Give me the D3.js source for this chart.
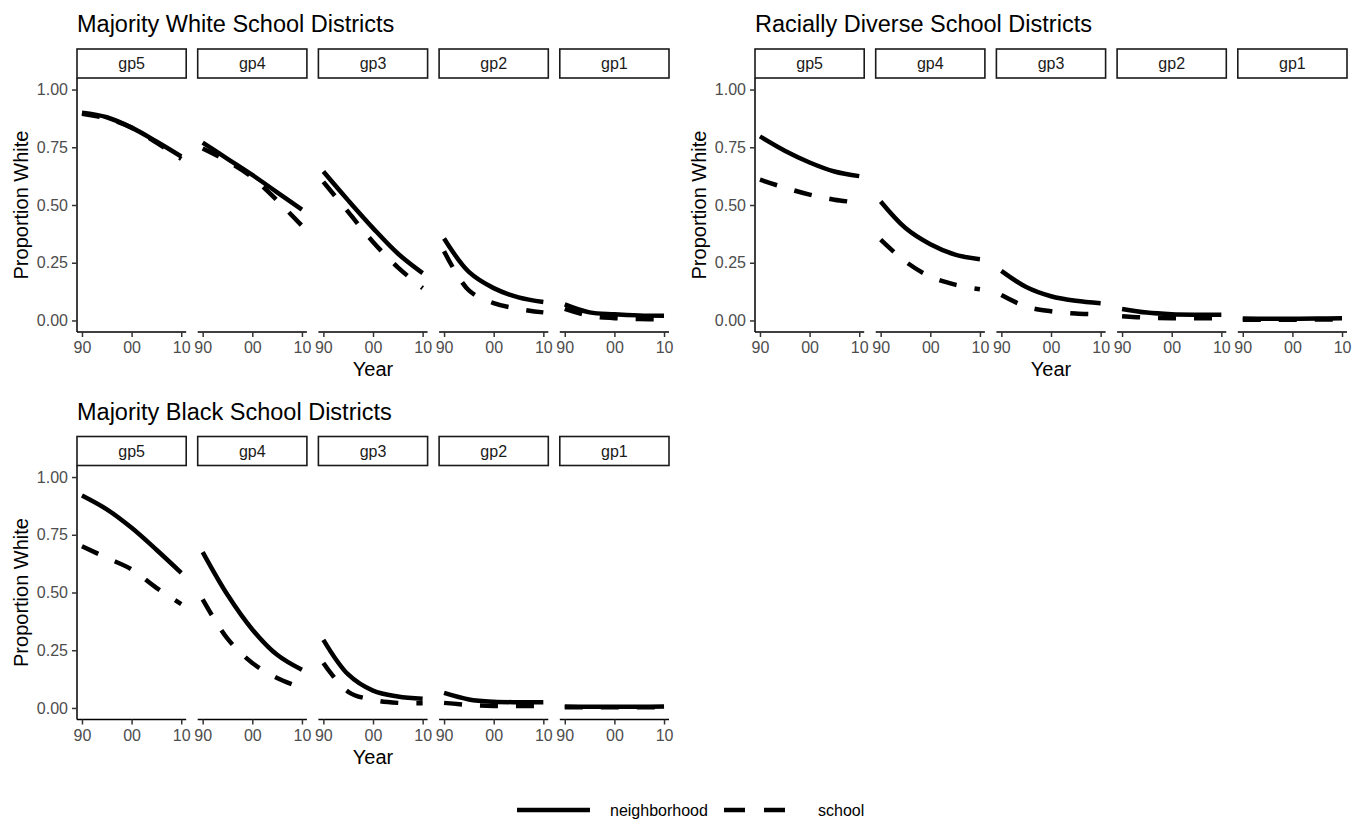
<!DOCTYPE html>
<html>
<head>
<meta charset="utf-8">
<script src="https://cdn.jsdelivr.net/npm/d3@7"></script>
<style>
  html, body { margin: 0; padding: 0; background: #fff; }
  svg { display: block; font-family: "Liberation Sans", Arial, sans-serif; }
</style>
</head>
<body>
<svg id="chart" width="1365" height="821"></svg>
<script>
// ---------------- DATA ----------------
const years = [1990, 1995, 2000, 2005, 2010];
const groups = ["gp5", "gp4", "gp3", "gp2", "gp1"];
const xTickValues = [1990, 2000, 2010];
const xTickLabels = ["90", "00", "10"];
const yTickValues = [0, 0.25, 0.5, 0.75, 1];
const yTickLabels = ["0.00", "0.25", "0.50", "0.75", "1.00"];
const seriesNames = ["neighborhood", "school"];
const chartTitles = ["Majority White School Districts", "Racially Diverse School Districts", "Majority Black School Districts"];

// rows follow groups order (gp5..gp1), columns follow years
const whiteNeighborhood = [
  [0.90, 0.88, 0.835, 0.775, 0.71],
  [0.77, 0.70, 0.63, 0.555, 0.48],
  [0.645, 0.52, 0.40, 0.29, 0.205],
  [0.355, 0.21, 0.14, 0.10, 0.08],
  [0.07, 0.035, 0.027, 0.022, 0.02]
];
const whiteSchool = [
  [0.895, 0.875, 0.835, 0.77, 0.70],
  [0.745, 0.69, 0.62, 0.52, 0.41],
  [0.60, 0.47, 0.34, 0.23, 0.14],
  [0.30, 0.13, 0.075, 0.05, 0.035],
  [0.05, 0.02, 0.01, 0.006, 0.005]
];
const diverseNeighborhood = [
  [0.797, 0.735, 0.684, 0.645, 0.625],
  [0.515, 0.40, 0.33, 0.285, 0.265],
  [0.215, 0.145, 0.105, 0.085, 0.075],
  [0.05, 0.034, 0.027, 0.025, 0.025],
  [0.008, 0.007, 0.007, 0.008, 0.01]
];
const diverseSchool = [
  [0.61, 0.575, 0.545, 0.523, 0.51],
  [0.35, 0.255, 0.19, 0.155, 0.135],
  [0.11, 0.06, 0.04, 0.03, 0.026],
  [0.018, 0.012, 0.01, 0.01, 0.01],
  [0.003, 0.003, 0.003, 0.004, 0.005]
];
const blackNeighborhood = [
  [0.92, 0.86, 0.78, 0.685, 0.585],
  [0.675, 0.49, 0.34, 0.23, 0.165],
  [0.295, 0.145, 0.075, 0.05, 0.04],
  [0.065, 0.037, 0.027, 0.025, 0.025],
  [0.006, 0.005, 0.005, 0.005, 0.006]
];
const blackSchool = [
  [0.70, 0.65, 0.60, 0.52, 0.45],
  [0.47, 0.30, 0.195, 0.13, 0.087],
  [0.195, 0.07, 0.035, 0.022, 0.02],
  [0.022, 0.013, 0.009, 0.008, 0.008],
  [0.003, 0.003, 0.003, 0.003, 0.004]
];

// ---------------- LAYOUT ----------------
const svg = d3.select("#chart");
const panelW = 109.2, gap = 11.5;
const stripTop = 49, stripH = 29;
const panelTop = stripTop + stripH, panelBottom = 332;
const lineW = 4.5;
const dash = "18,18";

const charts = [
  { title: chartTitles[0], nb: whiteNeighborhood, sc: whiteSchool, dx: 77, dy: 0 },
  { title: chartTitles[1], nb: diverseNeighborhood, sc: diverseSchool, dx: 755, dy: 0 },
  { title: chartTitles[2], nb: blackNeighborhood, sc: blackSchool, dx: 77, dy: 387.5 }
];

const x = d3.scaleLinear().domain([1989, 2011]).range([0, panelW]);
const y = d3.scaleLinear().domain([-0.05, 1.05]).range([panelBottom, panelTop]);
const line = d3.line().x(d => x(d[0])).y(d => y(d[1])).curve(d3.curveCatmullRom.alpha(0.5));

charts.forEach(ch => {
  const g = svg.append("g").attr("transform", `translate(${ch.dx},${ch.dy})`);

  g.append("text").attr("x", 0).attr("y", 32)
    .attr("font-size", 23.5).attr("fill", "#000").text(ch.title);

  // y axis
  const yAxis = d3.axisLeft(y).tickValues(yTickValues)
    .tickFormat((d, i) => yTickLabels[i]).tickSize(5).tickPadding(4).tickSizeOuter(0);
  const ya = g.append("g").call(yAxis);
  ya.select(".domain").attr("stroke", "#000").attr("stroke-width", 1.5)
    .attr("d", `M0,${panelTop}V${panelBottom}`);
  ya.selectAll(".tick line").attr("stroke", "#333").attr("stroke-width", 1.5);
  ya.selectAll(".tick text").attr("fill", "#4d4d4d").attr("font-size", 16)
    .attr("font-family", "Liberation Sans, Arial, sans-serif");

  g.append("text")
    .attr("transform", `translate(-49,${(panelTop + panelBottom) / 2}) rotate(-90)`)
    .attr("text-anchor", "middle").attr("font-size", 20).attr("fill", "#000")
    .text("Proportion White");

  groups.forEach((gp, i) => {
    const px = i * (panelW + gap);
    const pg = g.append("g").attr("transform", `translate(${px},0)`);

    // strip
    pg.append("rect").attr("x", 0).attr("y", stripTop).attr("width", panelW).attr("height", stripH)
      .attr("fill", "#fff").attr("stroke", "#1a1a1a").attr("stroke-width", 1.6);
    pg.append("text").attr("x", panelW / 2).attr("y", stripTop + stripH / 2 + 5.5)
      .attr("text-anchor", "middle").attr("font-size", 16).attr("fill", "#1a1a1a").text(gp);

    // x axis
    const xAxis = d3.axisBottom(x).tickValues(xTickValues)
      .tickFormat((d, k) => xTickLabels[k]).tickSize(5).tickPadding(5).tickSizeOuter(0);
    const xa = pg.append("g").attr("transform", `translate(0,${panelBottom})`).call(xAxis);
    xa.select(".domain").attr("stroke", "#000").attr("stroke-width", 1.5)
      .attr("d", `M0,0H${panelW}`);
    xa.selectAll(".tick line").attr("stroke", "#333").attr("stroke-width", 1.5);
    xa.selectAll(".tick text").attr("fill", "#4d4d4d").attr("font-size", 16)
      .attr("font-family", "Liberation Sans, Arial, sans-serif");

    // lines
    const nbData = years.map((yr, k) => [yr, ch.nb[i][k]]);
    const scData = years.map((yr, k) => [yr, ch.sc[i][k]]);
    pg.append("path").datum(nbData).attr("d", line)
      .attr("fill", "none").attr("stroke", "#000").attr("stroke-width", lineW);
    pg.append("path").datum(scData).attr("d", line)
      .attr("fill", "none").attr("stroke", "#000").attr("stroke-width", lineW)
      .attr("stroke-dasharray", dash);
  });

  const totalW = 5 * panelW + 4 * gap;
  g.append("text").attr("x", totalW / 2).attr("y", 376)
    .attr("text-anchor", "middle").attr("font-size", 20).attr("fill", "#000").text("Year");
});

// ---------------- LEGEND ----------------
const leg = svg.append("g");
const legY = 810;
leg.append("line").attr("x1", 517).attr("x2", 590).attr("y1", legY).attr("y2", legY)
  .attr("stroke", "#000").attr("stroke-width", lineW);
leg.append("text").attr("x", 610).attr("y", legY + 6).attr("font-size", 16).attr("fill", "#000").text(seriesNames[0]);
leg.append("line").attr("x1", 724).attr("x2", 797).attr("y1", legY).attr("y2", legY)
  .attr("stroke", "#000").attr("stroke-width", lineW).attr("stroke-dasharray", "21,19");
leg.append("text").attr("x", 818).attr("y", legY + 6).attr("font-size", 16).attr("fill", "#000").text(seriesNames[1]);
</script>
</body>
</html>
